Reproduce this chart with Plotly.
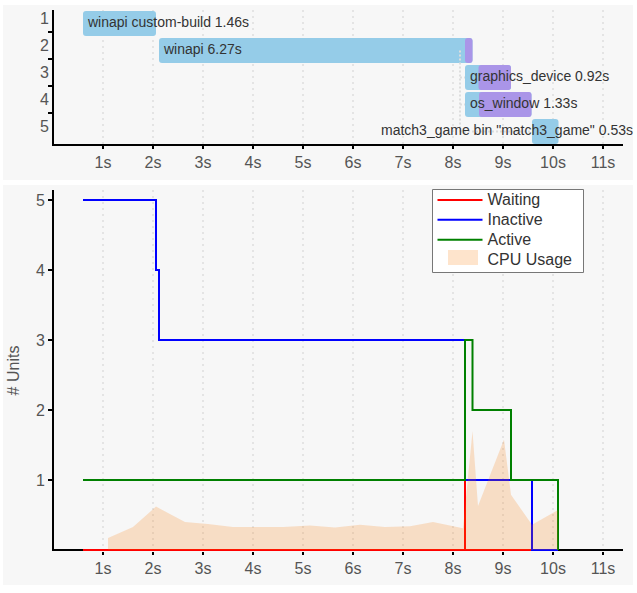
import plotly.graph_objs as go

W, H = 637, 593

# unit timings (seconds)
units = [1, 2, 3, 4, 5]
unit_start = [0.60, 2.12, 8.24, 8.24, 9.58]
unit_duration = [1.46, 6.27, 0.92, 1.33, 0.53]
unit_labels = ['winapi custom-build 1.46s', 'winapi 6.27s', 'graphics_device 0.92s',
               'os_window 1.33s', 'match3_game bin "match3_game" 0.53s']
label_x = [0.70, 2.22, 8.34, 8.34, 6.56]

codegen_units = [2, 3, 4]
codegen_start = [8.24, 8.51, 8.52]
codegen_end = [8.39, 9.16, 9.57]

dep_x = [8.14, 8.14, None, 8.14, 8.24, None, 8.14, 8.24, None, 8.14, 9.58]
dep_y = [2, 5, None, 3, 3, None, 4, 4, None, 5, 5]

# concurrency
waiting_x = [0.60, 8.24, 8.24, 8.24, 10.10]
waiting_y = [0, 0, 1, 0, 0]
inactive_x = [0.60, 2.06, 2.06, 2.12, 2.12, 8.24, 8.24, 9.58, 9.58, 10.10]
inactive_y = [5, 5, 4, 4, 3, 3, 1, 1, 0, 0]
active_x = [0.60, 8.24, 8.24, 8.39, 8.39, 9.16, 9.16, 10.10, 10.10]
active_y = [1, 1, 3, 3, 2, 2, 1, 1, 0]
cpu_x = [1.10, 1.60, 2.06, 2.64, 3.10, 3.60, 4.10, 4.60, 5.14, 5.64, 6.14, 6.64, 7.14,
         7.60, 8.20, 8.39, 8.50, 9.02, 9.16, 9.58, 10.10]
cpu_y = [0.17, 0.33, 0.62, 0.40, 0.37, 0.33, 0.33, 0.33, 0.35, 0.32, 0.36, 0.33, 0.34,
         0.40, 0.31, 1.70, 0.63, 1.58, 0.79, 0.36, 0.57]

sec_ticks = [1, 2, 3, 4, 5, 6, 7, 8, 9, 10, 11]
sec_labels = ['1s', '2s', '3s', '4s', '5s', '6s', '7s', '8s', '9s', '10s', '11s']
count_ticks = [1, 2, 3, 4, 5]


def xfrac(px):
    return px / W


def yfrac(px):
    return 1 - px / H


def legend_name(text):
    # small legend font keeps the rows 20px apart, the span sets the size that is shown
    return '<span style="font-size:16px">%s</span>' % text


def panel(x0, x1, y0, y1, **kw):
    return dict(type='rect', xref='paper', yref='paper', x0=xfrac(x0), x1=xfrac(x1), y0=yfrac(y1), y1=yfrac(y0), **kw)


# axis lines sit just outside the domain, so the domains start 1px in from the zero positions
xaxis_style = dict(range=[0.02, 11.4], domain=[xfrac(54), xfrac(623)], tickvals=sec_ticks, ticktext=sec_labels,
                   showgrid=True, gridcolor='#e4e4e4', gridwidth=2, griddash='2px,4px', zeroline=False,
                   showline=True, linecolor='black', linewidth=2, ticks='outside', ticklen=3, tickwidth=2,
                   tickcolor='black', tickfont=dict(size=16, color='#555555'), layer='below traces')
yaxis_style = dict(showgrid=False, zeroline=False, showline=True, linecolor='black', linewidth=2,
                   tickfont=dict(size=16, color='#555555'), layer='below traces')

layout = go.Layout(
    width=W, height=H, autosize=False, margin=dict(t=0, l=0, r=0, b=0),
    paper_bgcolor='white', plot_bgcolor='rgba(0,0,0,0)', barmode='overlay', hovermode=False,
    font=dict(family='Liberation Sans, Arial, sans-serif', color='#333333'),
    xaxis=dict(xaxis_style, anchor='y'),
    yaxis=dict(yaxis_style, domain=[yfrac(144), yfrac(10)], anchor='x', range=[5.5 - 1 / 27, 0.5],
               tickvals=[u - 0.2 for u in units], ticktext=[str(u) for u in units], ticks='',
               minor=dict(tickvals=[u + 0.31 for u in units[:-1]], ticks='outside', ticklen=4, tickwidth=2,
                          tickcolor='black', showgrid=False)),
    # the lower x axis is the zero line of y2 so that the red line can lie on top of it
    xaxis2=dict(xaxis_style, anchor='y2', showline=False),
    yaxis2=dict(yaxis_style, domain=[yfrac(551), yfrac(190)], anchor='x2', range=[-1 / 70, 360 / 70],
                zeroline=True, zerolinecolor='black', zerolinewidth=2,
                tickvals=count_ticks, ticks='outside', ticklen=4, tickwidth=2, tickcolor='black',
                title=dict(text='# Units', font=dict(size=16, color='#555555'), standoff=12)),
    legend=dict(x=xfrac(432.5), y=yfrac(185), xanchor='left', yanchor='top', bgcolor='rgba(0,0,0,0)',
                borderwidth=0, itemwidth=45, font=dict(size=13, color='#333333'),
                entrywidth=92, entrywidthmode='pixels', traceorder='normal'),
    shapes=[
        panel(3, 633, 5, 180, fillcolor='#f7f7f7', line_width=0, layer='below'),
        panel(3, 633, 185, 585, fillcolor='#f7f7f7', line_width=0, layer='below'),
        # legend box and the CPU swatch, the legend itself is transparent
        panel(432.5, 583.5, 189.5, 272.5, fillcolor='white', line=dict(color='#777777', width=1), layer='above'),
        panel(448, 478, 250, 265, fillcolor='rgba(250,119,0,0.2)', line_width=0, layer='above'),
    ],
)
fig = go.Figure(layout=layout)

fig.add_trace(go.Bar(y=units, x=unit_duration, base=unit_start, orientation='h', width=0.92,
                     marker=dict(color='#95cce8', line_width=0, cornerradius=3), showlegend=False))
fig.add_trace(go.Bar(y=codegen_units, x=[e - s for s, e in zip(codegen_start, codegen_end)], base=codegen_start,
                     orientation='h', width=0.92, marker=dict(color='#aa95e8', line_width=0, cornerradius=3),
                     showlegend=False))
fig.add_trace(go.Scatter(x=dep_x, y=dep_y, mode='lines', line=dict(color='#dddddd', width=2, dash='2px,2px'),
                         showlegend=False))
fig.add_trace(go.Scatter(x=label_x, y=units, mode='text', text=unit_labels, textposition='middle right',
                         textfont=dict(size=14, color='#333333'), cliponaxis=False, showlegend=False))

fig.add_trace(go.Scatter(x=waiting_x, y=waiting_y, name=legend_name('Waiting'), mode='lines',
                         line=dict(color='red', width=2), xaxis='x2', yaxis='y2', cliponaxis=False))
fig.add_trace(go.Scatter(x=inactive_x, y=inactive_y, name=legend_name('Inactive'), mode='lines',
                         line=dict(color='blue', width=2), xaxis='x2', yaxis='y2', cliponaxis=False))
fig.add_trace(go.Scatter(x=active_x, y=active_y, name=legend_name('Active'), mode='lines',
                         line=dict(color='green', width=2), xaxis='x2', yaxis='y2', cliponaxis=False))
fig.add_trace(go.Scatter(x=cpu_x, y=cpu_y, mode='lines', line=dict(width=0), fill='tozeroy',
                         fillcolor='rgba(250,119,0,0.2)', xaxis='x2', yaxis='y2', showlegend=False))
# legend entry only, no data of its own
fig.add_trace(go.Scatter(x=[None], y=[None], name=legend_name('CPU Usage'), mode='lines', line=dict(width=0),
                         xaxis='x2', yaxis='y2'))

fig.write_html("out.html", config={'displayModeBar': False},
               post_script="document.body.style.margin='0';document.documentElement.style.overflow='hidden';")
